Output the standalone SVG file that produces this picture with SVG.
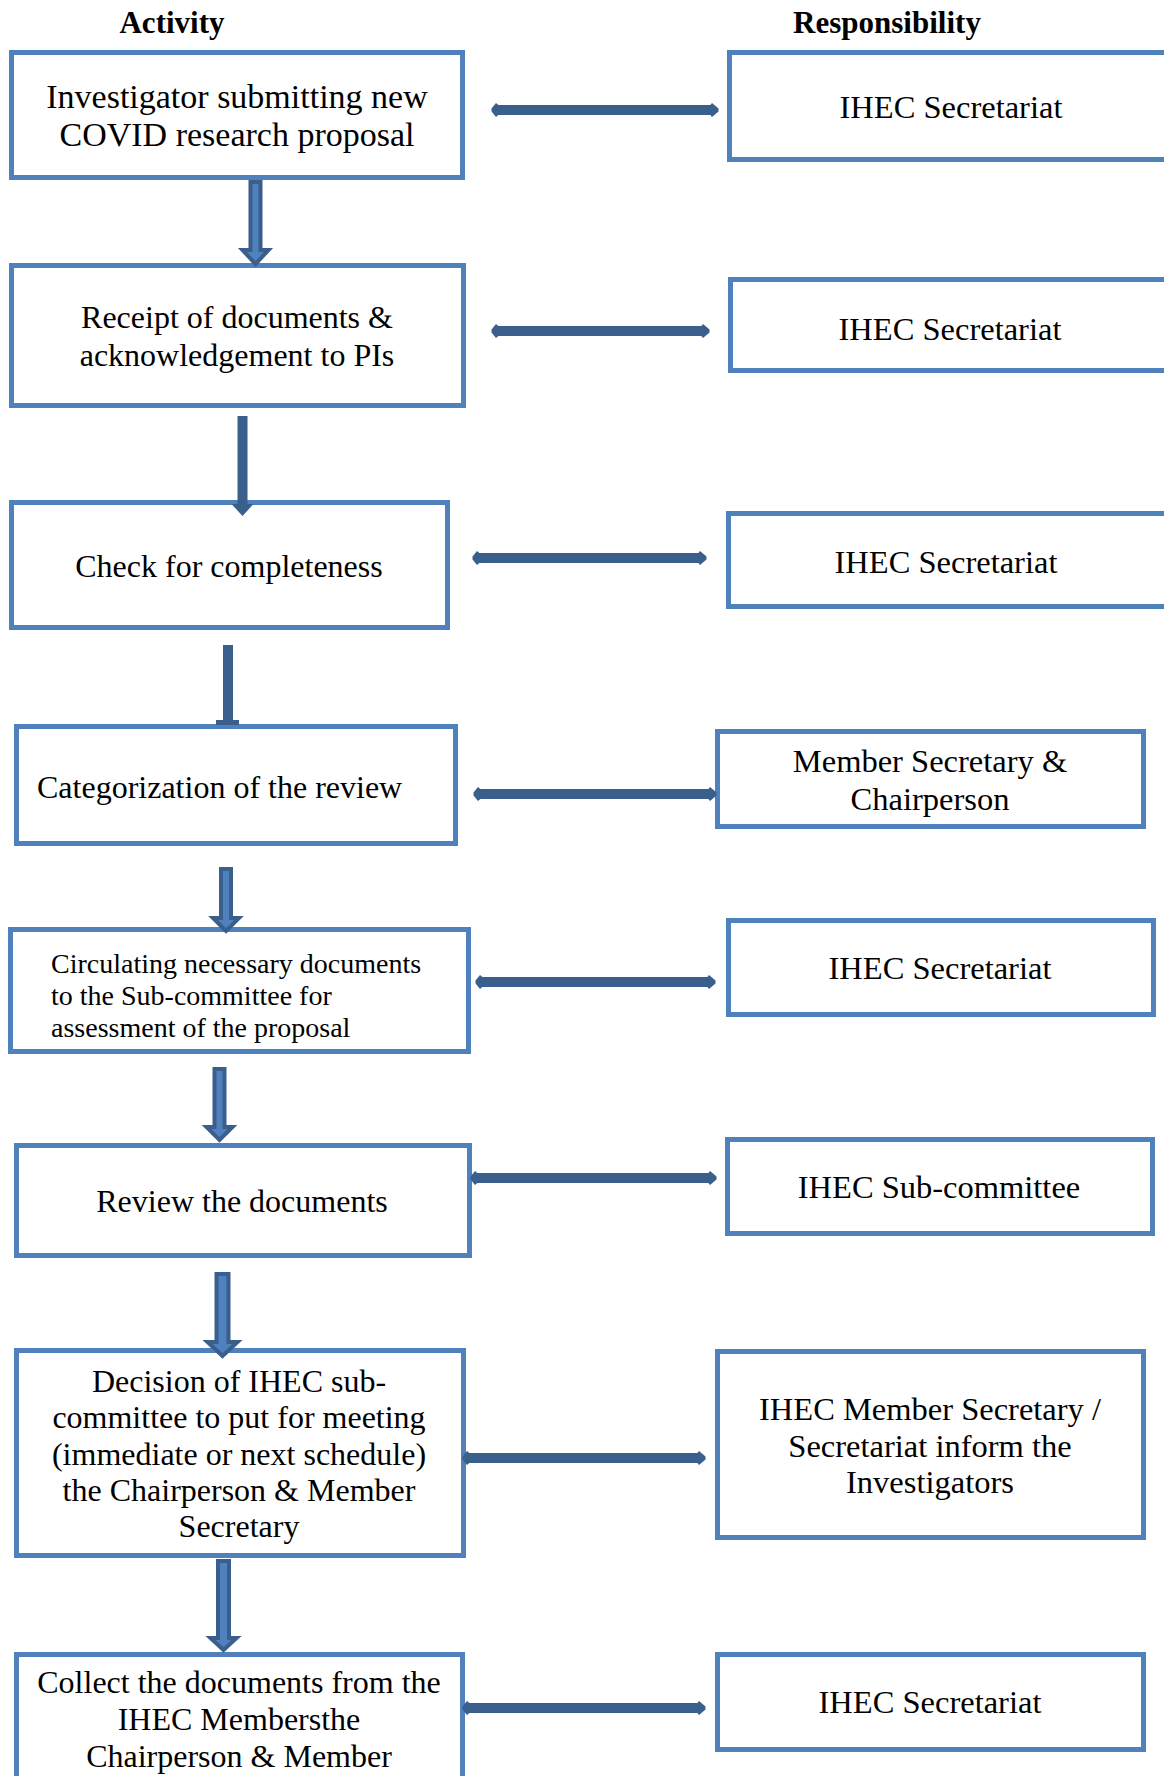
<svg xmlns="http://www.w3.org/2000/svg" width="1164" height="1776" viewBox="0 0 1164 1776">
  <style>
    .box { fill: #ffffff; stroke: #4F81BD; stroke-width: 5; }
    .t { font-family: "Liberation Serif", "Times New Roman", serif; font-size: 32px; fill: #000000; text-anchor: middle; }
    .r { font-size: 32.5px; }
    .tl { text-anchor: start; }
    .sm { font-size: 28px; }
    .hd { font-family: "Liberation Serif", "Times New Roman", serif; font-size: 31px; font-weight: bold; fill: #000000; text-anchor: middle; }
    .link { stroke: #3A5F8D; stroke-width: 10; fill: none; marker-start: url(#tip); marker-end: url(#tip); }
    .flow { fill: #4F81BD; stroke: #3A5F8D; stroke-width: 4; stroke-linejoin: miter; }
    .bar { stroke: #3A5F8D; stroke-width: 10; fill: none; }
    .head { fill: #3A5F8D; }
  </style>
  <defs>
    <marker id="tip" markerUnits="userSpaceOnUse" markerWidth="12" markerHeight="16" refX="6" refY="8" orient="auto">
      <path d="M0.5,6.5 L5,1 L11.5,6.5 L11.5,9.5 L5,15 L0.5,9.5 Z" fill="#3A5F8D"/>
    </marker>
  </defs>

  <rect width="1164" height="1776" fill="#ffffff"/>

  <!-- column headers -->
  <text class="hd" x="172" y="33">Activity</text>
  <text class="hd" x="887" y="33">Responsibility</text>

  <!-- activity column -->
  <g id="act-submit">
    <rect class="box" x="11.5" y="52.5" width="451" height="125"/>
    <text class="t" x="237" y="108" style="font-size:34px">Investigator submitting new</text>
    <text class="t" x="237" y="146" style="font-size:34px">COVID research proposal</text>
  </g>
  <g id="act-receipt">
    <rect class="box" x="11.5" y="265.5" width="452" height="140"/>
    <text class="t" x="237" y="328">Receipt of documents &amp;</text>
    <text class="t" x="237" y="366">acknowledgement to PIs</text>
  </g>
  <g id="act-check">
    <rect class="box" x="11.5" y="502.5" width="436" height="125"/>
    <text class="t" x="229" y="577">Check for completeness</text>
  </g>
  <g id="act-categorize">
    <rect class="box" x="16.5" y="726.5" width="439" height="117"/>
    <text class="t tl" x="37" y="798">Categorization of the review</text>
  </g>
  <g id="act-circulate">
    <rect class="box" x="10.5" y="929.5" width="458" height="122"/>
    <text class="t tl sm" x="51" y="973">Circulating necessary documents</text>
    <text class="t tl sm" x="51" y="1005">to the Sub-committee for</text>
    <text class="t tl sm" x="51" y="1037">assessment of the proposal</text>
  </g>
  <g id="act-review">
    <rect class="box" x="16.5" y="1145.5" width="453" height="110"/>
    <text class="t" x="242" y="1212">Review the documents</text>
  </g>
  <g id="act-decision">
    <rect class="box" x="16.5" y="1350.5" width="447" height="205"/>
    <text class="t" x="239" y="1392">Decision of IHEC sub-</text>
    <text class="t" x="239" y="1428">committee to put for meeting</text>
    <text class="t" x="239" y="1465">(immediate or next schedule)</text>
    <text class="t" x="239" y="1501">the Chairperson &amp; Member</text>
    <text class="t" x="239" y="1537">Secretary</text>
  </g>
  <g id="act-collect">
    <rect class="box" x="16.5" y="1654.5" width="446" height="140"/>
    <text class="t" x="239" y="1693">Collect the documents from the</text>
    <text class="t" x="239" y="1730">IHEC Membersthe</text>
    <text class="t" x="239" y="1767">Chairperson &amp; Member</text>
  </g>

  <!-- responsibility column -->
  <g id="resp-1">
    <rect class="box" x="729.5" y="52.5" width="450" height="107"/>
    <text class="t r" x="951" y="118">IHEC Secretariat</text>
  </g>
  <g id="resp-2">
    <rect class="box" x="730.5" y="279.5" width="450" height="91"/>
    <text class="t r" x="950" y="340">IHEC Secretariat</text>
  </g>
  <g id="resp-3">
    <rect class="box" x="728.5" y="513.5" width="450" height="93"/>
    <text class="t r" x="946" y="573">IHEC Secretariat</text>
  </g>
  <g id="resp-4">
    <rect class="box" x="717.5" y="731.5" width="426" height="95"/>
    <text class="t r" x="930" y="772">Member Secretary &amp;</text>
    <text class="t r" x="930" y="810">Chairperson</text>
  </g>
  <g id="resp-5">
    <rect class="box" x="728.5" y="920.5" width="425" height="94"/>
    <text class="t r" x="940" y="979">IHEC Secretariat</text>
  </g>
  <g id="resp-6">
    <rect class="box" x="727.5" y="1139.5" width="425" height="94"/>
    <text class="t r" x="939" y="1198">IHEC Sub-committee</text>
  </g>
  <g id="resp-7">
    <rect class="box" x="717.5" y="1351.5" width="426" height="186"/>
    <text class="t r" x="930" y="1420">IHEC Member Secretary /</text>
    <text class="t r" x="930" y="1457">Secretariat inform the</text>
    <text class="t r" x="930" y="1493">Investigators</text>
  </g>
  <g id="resp-8">
    <rect class="box" x="717.5" y="1654.5" width="426" height="95"/>
    <text class="t r" x="930" y="1713">IHEC Secretariat</text>
  </g>

  <!-- connectors -->
  <g id="connectors">
    <!-- activity to responsibility, double-ended -->
    <line class="link" x1="497" y1="110" x2="713" y2="110"/>
    <line class="link" x1="497" y1="331" x2="704" y2="331"/>
    <line class="link" x1="478" y1="558" x2="701" y2="558"/>
    <line class="link" x1="479" y1="794" x2="711" y2="794"/>
    <line class="link" x1="481" y1="982" x2="710" y2="982"/>
    <line class="link" x1="476" y1="1178" x2="711" y2="1178"/>
    <line class="link" x1="468" y1="1458" x2="700" y2="1458"/>
    <line class="link" x1="468" y1="1708" x2="700" y2="1708"/>

    <!-- flow between activities -->
    <polygon class="flow" points="250.5,182 260.5,182 260.5,250 268.5,250 255.5,264 242.5,250 250.5,250"/>
    <line class="bar" x1="242.5" y1="416" x2="242.5" y2="506"/>
    <polygon class="head" points="231.5,504 253.5,504 242.5,516"/>
    <line class="bar" x1="228" y1="645" x2="228" y2="723"/>
    <rect class="head" x="216" y="720" width="23" height="5"/>
    <polygon class="flow" points="221,869 231,869 231,918 239,918 226,931 213,918 221,918"/>
    <polygon class="flow" points="214.5,1069 224.5,1069 224.5,1127 232.5,1127 219.5,1140 206.5,1127 214.5,1127"/>
    <polygon class="flow" points="216.5,1274 228.5,1274 228.5,1342 237.5,1342 222.5,1356 207.5,1342 216.5,1342"/>
    <polygon class="flow" points="218,1561 229,1561 229,1638 236.5,1638 223.5,1650 210.5,1638 218,1638"/>
  </g>
</svg>
